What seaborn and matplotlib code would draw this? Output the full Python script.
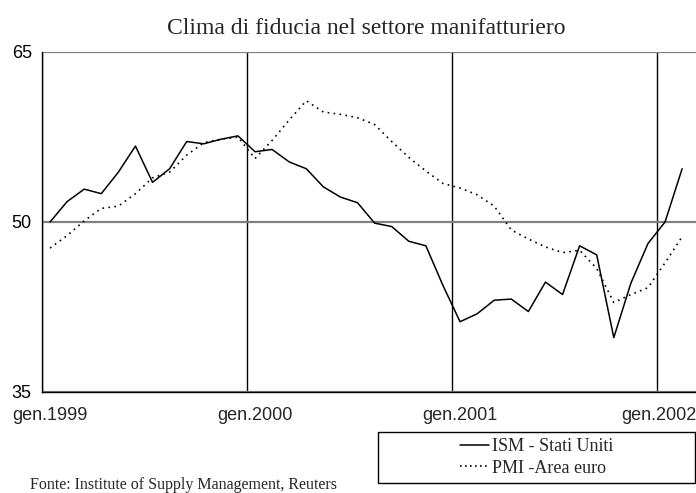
import numpy as np
import pandas as pd
import matplotlib
matplotlib.use("Agg")
import matplotlib.pyplot as plt
import seaborn as sns
from matplotlib.patches import Rectangle
from matplotlib.lines import Line2D

# ---- data (monthly, gen.1999 .. feb.2002) ----
months = list(range(38))
ism = [50.0, 51.8, 52.9, 52.5, 54.4, 56.7, 53.5, 54.7, 57.1, 56.9,
       57.3, 57.6, 56.2, 56.4, 55.3, 54.7, 53.1, 52.2, 51.7, 49.9,
       49.6, 48.3, 47.9, 44.4, 41.2, 41.9, 43.1, 43.2, 42.1, 44.7,
       43.6, 47.9, 47.1, 39.8, 44.6, 48.1, 50.0, 54.7]
pmi = [47.7, 48.8, 50.1, 51.2, 51.4, 52.5, 53.9, 54.4, 55.9, 57.0,
       57.3, 57.5, 55.6, 57.2, 59.0, 60.7, 59.7, 59.5, 59.2, 58.6,
       57.1, 55.7, 54.5, 53.4, 53.0, 52.4, 51.4, 49.3, 48.5, 47.8,
       47.3, 47.5, 45.9, 42.9, 43.6, 44.2, 46.4, 48.7]
year_ticks = [0, 12, 24, 36]
year_labels = ["gen.1999", "gen.2000", "gen.2001", "gen.2002"]
y_ticks = [35, 50, 65]
series_names = ["ISM - Stati Uniti", "PMI -Area euro"]
title = "Clima di fiducia nel settore manifatturiero"
source = "Fonte: Institute of Supply Management, Reuters"

sns.set_theme(style="white")
plt.rcParams["font.family"] = ["Liberation Sans Narrow", "Liberation Sans", "DejaVu Sans"]
serif = ["Liberation Serif", "DejaVu Serif"]

W, H = 696, 493
fig = plt.figure(figsize=(W / 100, H / 100), dpi=100)
x0, x1, ytop, ybot = 41.5, 696, 52, 392
ax = fig.add_axes([x0 / W, 1 - ybot / H, (x1 - x0) / W, (ybot - ytop) / H])

df = pd.DataFrame({"mese": np.array(months) + 0.5, "ISM": ism, "PMI": pmi})
sns.lineplot(data=df, x="mese", y="ISM", ax=ax, color="black", lw=1.1)
sns.lineplot(data=df, x="mese", y="PMI", ax=ax, color="black", lw=1.2,
             linestyle=(0, (1, 2.6)))

ax.set_xlim(0, (x1 - x0) / (205 / 12))
ax.set_ylim(35, 65)
ax.set_xlabel("")
ax.set_ylabel("")

ax.set_yticks(y_ticks)
ax.set_yticklabels([str(v) for v in y_ticks], fontsize=13)
ax.tick_params(axis="y", direction="inout", length=8, width=1, color="black", pad=3, colors="black")
ax.set_xticks(year_ticks)
ax.set_xticklabels([])
ax.tick_params(axis="x", direction="out", length=6, width=1, color="black")

ax.yaxis.grid(True, color="#808080", lw=1.6)
ax.xaxis.grid(True, color="black", lw=1.0)
ax.set_axisbelow(True)

for s in ["top", "right"]:
    ax.spines[s].set_visible(False)
for s in ["left", "bottom"]:
    ax.spines[s].set_color("black")
    ax.spines[s].set_linewidth(1.0)
    ax.spines[s].set_zorder(3)

# category labels under first month of each year
trans = ax.get_xaxis_transform()
for i, (t, lab) in enumerate(zip(year_ticks, year_labels)):
    if i == len(year_ticks) - 1:
        ax.text(1.0, -0.07, lab, transform=ax.transAxes, ha="right", va="center", fontsize=13)
    else:
        ax.text(t + 0.5, -0.07, lab, transform=trans, ha="center", va="center", fontsize=13)

fig.text(366 / W, 1 - 34 / H, title, ha="center", va="baseline", fontsize=17, family=serif)
fig.text(30 / W, 1 - 485 / H, source, ha="left", va="center", fontsize=11.5, family=serif)

# legend box
fig.patches.append(Rectangle((378 / W, 1 - 483 / H), 317 / W, 51 / H, transform=fig.transFigure,
                             fill=False, edgecolor="black", lw=1.0))
handles = [Line2D([], [], color="black", lw=1.1),
           Line2D([], [], color="black", lw=1.2, linestyle=(0, (1, 2.0)))]
fig.legend(handles, series_names, loc="center left", bbox_to_anchor=(460 / W, 1 - 457.5 / H),
           frameon=False, borderpad=0, borderaxespad=0, handlelength=1.6, handletextpad=0.15,
           labelspacing=0.25, prop={"family": serif, "size": 13})

fig.savefig("out.png", dpi=100)
